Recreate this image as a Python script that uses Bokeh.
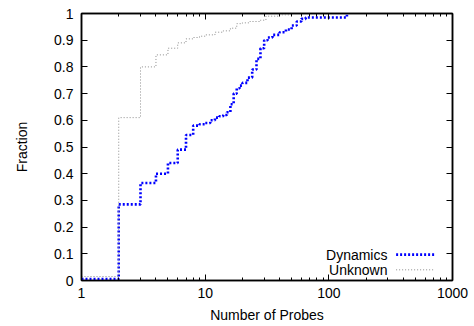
from bokeh.plotting import figure
from bokeh.models import (LinearAxis, LogAxis, FixedTicker, Label, Arrow,
                          CustomJSTickFormatter, BasicTickFormatter)
from bokeh.embed import file_html
from bokeh.resources import INLINE

# ---- data ----
dyn_probes = [1, 2, 3, 4, 5, 6, 7, 8, 9, 10, 11, 12, 13, 14, 15, 16, 17,
              18, 19, 20, 22, 24, 26, 28, 30, 32, 35, 40, 45, 50, 55, 60,
              65, 140]
dyn_frac = [0.005, 0.285, 0.365, 0.40, 0.44, 0.49, 0.545, 0.58, 0.585, 0.59,
            0.60, 0.61, 0.615, 0.62, 0.63, 0.66, 0.70, 0.72, 0.73, 0.74,
            0.76, 0.79, 0.83, 0.87, 0.90, 0.91, 0.92, 0.93, 0.94, 0.955,
            0.97, 0.98, 0.985, 0.995]

unk_probes = [1, 2, 3, 4, 5, 6, 7, 8, 9, 10, 12, 14, 16, 18, 20, 23, 28,
              31, 40, 50]
unk_frac = [0.015, 0.61, 0.80, 0.845, 0.87, 0.89, 0.905, 0.91, 0.915, 0.92,
            0.93, 0.935, 0.945, 0.962, 0.965, 0.97, 0.975, 0.99, 0.995, 1.0]

series_names = ["Dynamics", "Unknown"]
y_ticks = [0, 0.1, 0.2, 0.3, 0.4, 0.5, 0.6, 0.7, 0.8, 0.9, 1]
y_tick_labels = ["0", "0.1", "0.2", "0.3", "0.4", "0.5", "0.6", "0.7",
                 "0.8", "0.9", "1"]
x_ticks = [1, 10, 100, 1000]
x_tick_labels = ["1", "10", "100", "1000"]

# ---- styling ----
FONT = "Liberation Sans"
FS = "14px"
BLUE = "#0000ff"
GRAY = "#8c8c8c"
x_minor = [m * d for d in (1, 10, 100) for m in range(2, 10)]

p = figure(width=474, height=326, x_axis_type="log", x_range=(1, 1000),
           y_range=(0, 1), output_backend="svg", toolbar_location=None,
           min_border_left=81, min_border_right=22, min_border_top=13,
           min_border_bottom=46)
p.xgrid.visible = False
p.ygrid.visible = False
p.outline_line_color = "black"
p.outline_line_width = 1.5
p.background_fill_color = "white"
p.border_fill_color = "white"

p.step(dyn_probes, dyn_frac, mode="after", line_color=BLUE, line_width=2.6,
       line_dash="2 2")
p.step(unk_probes, unk_frac, mode="after", line_color=GRAY, line_width=1,
       line_dash="1 2")


def style_axis(ax):
    ax.axis_line_color = "black"
    ax.axis_line_width = 1.5
    ax.major_tick_in = 6
    ax.major_tick_out = 0
    ax.minor_tick_in = 3
    ax.minor_tick_out = 0
    ax.major_tick_line_color = "black"
    ax.minor_tick_line_color = "black"
    ax.major_label_text_font = FONT
    ax.major_label_text_font_size = FS
    ax.major_label_text_color = "black"
    ax.axis_label_text_font = FONT
    ax.axis_label_text_font_size = FS
    ax.axis_label_text_font_style = "normal"
    ax.axis_label_text_color = "black"


xa = p.xaxis[0]
style_axis(xa)
xa.ticker = FixedTicker(ticks=x_ticks, minor_ticks=x_minor)
xa.formatter = BasicTickFormatter()
xa.major_label_overrides = dict(zip(x_ticks, x_tick_labels))
xa.axis_label = "Number of Probes"
xa.major_label_standoff = 7
xa.axis_label_standoff = 6

ya = p.yaxis[0]
style_axis(ya)
ya.ticker = FixedTicker(ticks=y_ticks)
ya.major_label_overrides = dict(zip(y_ticks, y_tick_labels))
ya.axis_label = "Fraction"
ya.major_label_standoff = 8
ya.axis_label_standoff = 21

blank = "return ''"
top = LogAxis(ticker=FixedTicker(ticks=x_ticks, minor_ticks=x_minor),
              formatter=CustomJSTickFormatter(code=blank))
style_axis(top)
top.major_label_text_font_size = "0px"
top.major_label_standoff = 0
p.add_layout(top, "above")

right = LinearAxis(ticker=FixedTicker(ticks=y_ticks),
                   formatter=CustomJSTickFormatter(code=blank))
style_axis(right)
right.minor_tick_in = 0
right.major_label_text_font_size = "0px"
right.major_label_standoff = 0
p.add_layout(right, "right")

# ---- legend (gnuplot style: text then sample, right aligned) ----
leg_text_x = 298
leg_line_x0, leg_line_x1 = 350, 714
leg_rows = [(0.097, BLUE, 2.6, "2 2"), (0.040, GRAY, 1, "1 2")]
for name, (ly, col, lw, dash) in zip(series_names, leg_rows):
    p.add_layout(Label(x=leg_text_x, y=ly, text=name, text_align="right",
                       text_baseline="middle", text_font=FONT,
                       text_font_size=FS, text_color="black"))
    p.add_layout(Arrow(end=None, x_start=leg_line_x0, y_start=ly,
                       x_end=leg_line_x1, y_end=ly, line_color=col,
                       line_width=lw, line_dash=dash))

open("out.html", "w").write(file_html(p, INLINE))
